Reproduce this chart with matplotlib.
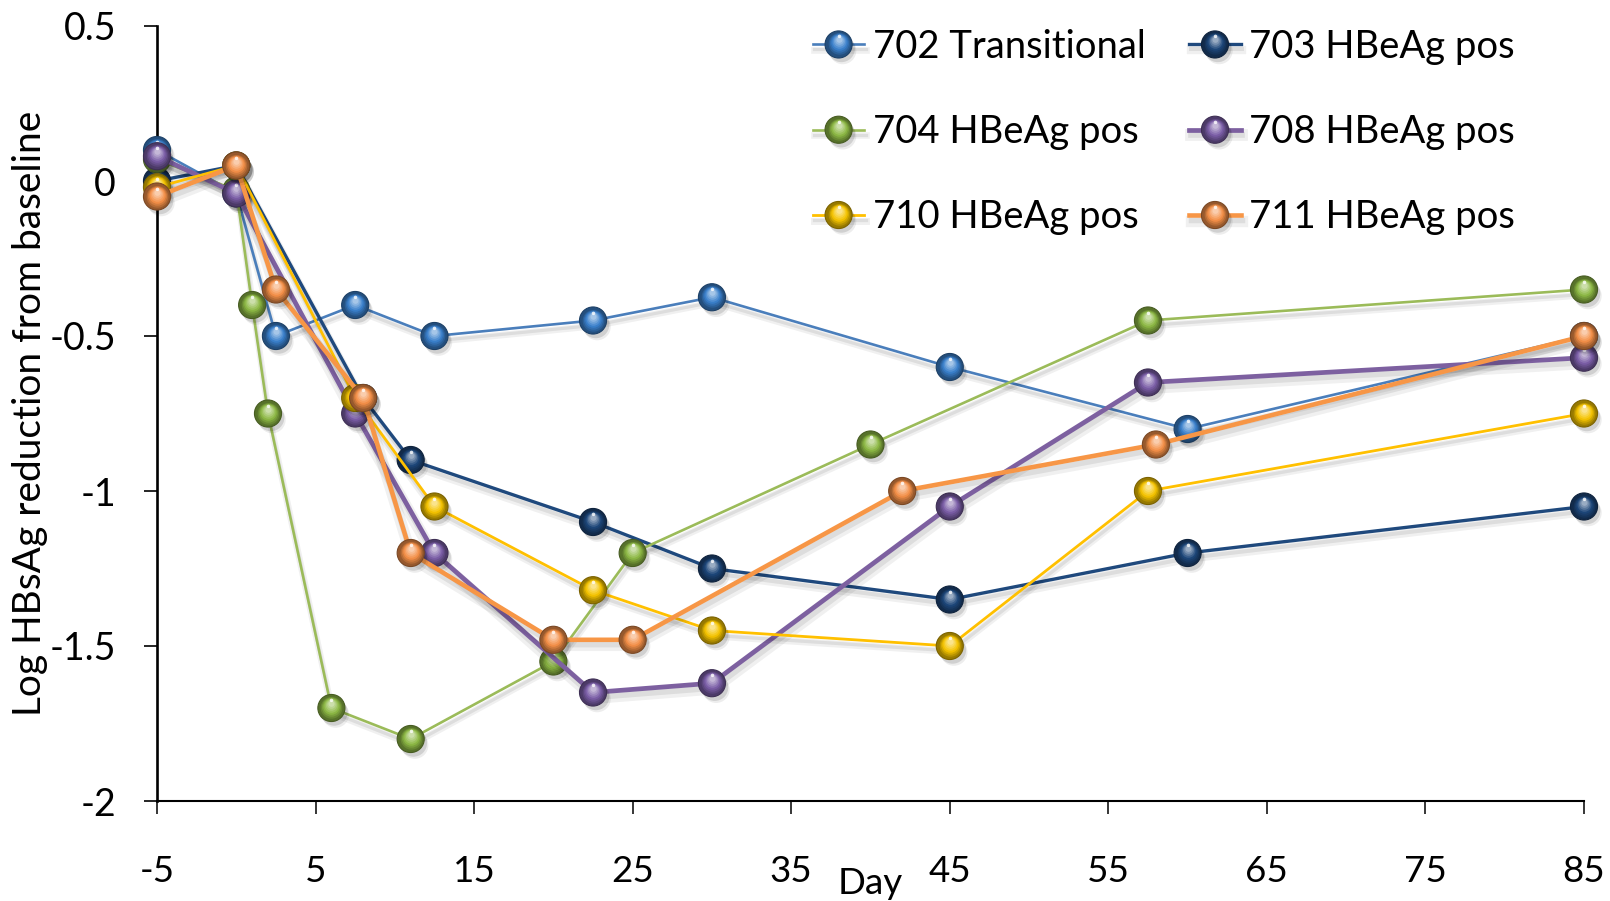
import numpy as np
import matplotlib
matplotlib.use("Agg")
from matplotlib import pyplot as plt
from matplotlib import patheffects as pe
from matplotlib.path import Path
from matplotlib.legend_handler import HandlerTuple
from matplotlib.colors import to_rgb

plt.rcParams['font.family'] = ['Lato', 'DejaVu Sans']
plt.rcParams['axes.unicode_minus'] = False

# dados por paciente: dia e log da redução do HBsAg
day_702 = [-5, 0, 2.5, 7.5, 12.5, 22.5, 30, 45, 60, 85]
val_702 = [0.1, -0.04, -0.5, -0.4, -0.5, -0.45, -0.375, -0.6, -0.8, -0.5]

day_703 = [-5, 0, 8, 11, 22.5, 30, 45, 60, 85]
val_703 = [0.0, 0.05, -0.7, -0.9, -1.1, -1.25, -1.35, -1.2, -1.05]

day_704 = [-5, 0, 1, 2, 6, 11, 20, 25, 40, 57.5, 85]
val_704 = [0.07, -0.03, -0.4, -0.75, -1.7, -1.8, -1.55, -1.2, -0.85, -0.45, -0.35]

day_708 = [-5, 0, 7.5, 12.5, 22.5, 30, 45, 57.5, 85]
val_708 = [0.08, -0.04, -0.75, -1.2, -1.65, -1.62, -1.05, -0.65, -0.57]

day_710 = [-5, 0, 7.5, 12.5, 22.5, 30, 45, 57.5, 85]
val_710 = [-0.02, 0.05, -0.7, -1.05, -1.32, -1.45, -1.5, -1.0, -0.75]

day_711 = [-5, 0, 2.5, 8, 11, 20, 25, 42, 58, 85]
val_711 = [-0.05, 0.05, -0.35, -0.7, -1.2, -1.48, -1.48, -1.0, -0.85, -0.5]

nomes = ['702 Transitional', '703 HBeAg pos', '704 HBeAg pos',
         '708 HBeAg pos', '710 HBeAg pos', '711 HBeAg pos']
cores = ['#4A7EBB', '#1F497D', '#9BBB59', '#7D60A0', '#FFC000', '#F79646']
cores_esfera = ['#3A80CC', '#1D4679', '#8DB844', '#7B5EA7', '#F5C400', '#F49048']
larguras = [1.9, 2.4, 1.9, 3.4, 2.0, 3.3]

x_ticks = [-5, 5, 15, 25, 35, 45, 55, 65, 75, 85]
x_tick_labels = ['-5', '5', '15', '25', '35', '45', '55', '65', '75', '85']
y_ticks = [-2, -1.5, -1, -0.5, 0, 0.5]
y_tick_labels = ['-2', '-1.5', '-1', '-0.5', '0', '0.5']

series = [(day_702, val_702), (day_703, val_703), (day_704, val_704),
          (day_708, val_708), (day_710, val_710), (day_711, val_711)]


def mistura(c1, c2, t):
    a = np.array(to_rgb(c1))
    b = np.array(to_rgb(c2))
    return tuple(a + (b - a) * t)


def bolinha(offset, diam):
    # circulo deslocado para cima; ms = 2*offset + diam mantem o tamanho
    circ = Path.circle(center=(0, offset), radius=diam / 2)
    return circ, 2 * offset + diam


D = 19.5  # diametro das esferas em pontos

fig = plt.figure(figsize=(16.1, 9.01), dpi=100)
ax = fig.add_axes([157 / 1610, 1 - 801 / 901, 1427 / 1610, 775 / 901])

handles = []
for i, ((dias, vals), cor, esf, lw) in enumerate(zip(series, cores, cores_esfera, larguras)):
    z = 3 + i
    escura = mistura(esf, 'black', 0.38)
    linha, = ax.plot(dias, vals, color=cor, lw=lw, zorder=z, clip_on=False,
                     solid_joinstyle='round',
                     path_effects=[pe.SimpleLineShadow(offset=(1, -4), shadow_color='k', alpha=0.06, linewidth=lw * 2.5),
                                   pe.SimpleLineShadow(offset=(1, -3.5), shadow_color='k', alpha=0.08, linewidth=lw * 1.2),
                                   pe.Normal()])
    partes = [linha]
    base, = ax.plot(dias, vals, ls='none', marker='o', ms=D, mfc=escura,
                    mec=mistura(esf, 'black', 0.5), mew=0.8, zorder=z + 0.01, clip_on=False,
                    path_effects=[pe.SimplePatchShadow(offset=(3, -4.5), shadow_rgbFace='k', alpha=0.07),
                                  pe.SimplePatchShadow(offset=(2, -3), shadow_rgbFace='k', alpha=0.12),
                                  pe.Normal()])
    partes.append(base)
    # camadas de brilho para dar aspecto de esfera
    n = 7
    for k in range(1, n + 1):
        t = k / n
        d = D * (0.9 - 0.68 * t)
        off = D * 0.17 * t
        if t < 0.45:
            c = mistura(escura, esf, t / 0.45)
        else:
            c = mistura(esf, 'white', (t - 0.45) / 0.55 * 0.55)
        mk, ms = bolinha(off, d)
        camada, = ax.plot(dias, vals, ls='none', marker=mk, ms=ms, mfc=c, mec='none',
                          zorder=z + 0.01 + 0.01 * k, clip_on=False)
        partes.append(camada)
    mk, ms = bolinha(D * 0.3, D * 0.13)
    brilho, = ax.plot(dias, vals, ls='none', marker=mk, ms=ms, mfc='white', mec='none',
                      alpha=0.8, zorder=z + 0.2, clip_on=False)
    partes.append(brilho)
    handles.append(tuple(partes))

ax.set_xlim(-5, 85)
ax.set_ylim(-2, 0.5)
ax.set_xticks(x_ticks, x_tick_labels)
ax.set_yticks(y_ticks, y_tick_labels)
ax.xaxis.set_tick_params(direction='out', length=9, width=1.1, labelsize=26.5, pad=30)
ax.yaxis.set_tick_params(direction='out', length=9.5, width=1.2, labelsize=27, pad=20)

for lado in ['top', 'right']:
    ax.spines[lado].set_visible(False)
ax.spines['left'].set_linewidth(1.9)
ax.spines['bottom'].set_linewidth(1.5)

ax.set_ylabel('Log HBsAg reduction from baseline', fontsize=28, labelpad=1)
ax.set_xlabel('Day', fontsize=26.5, labelpad=-15)

# legenda em duas colunas, preenchida por linhas
ordem = [0, 2, 4, 1, 3, 5]
ax.legend([handles[j] for j in ordem], [nomes[j] for j in ordem],
          handler_map={tuple: HandlerTuple(ndivide=1, pad=0)},
          ncols=2, frameon=False, fontsize=27.5, loc='upper left',
          bbox_to_anchor=(813 / 1610, 0.968), bbox_transform=fig.transFigure,
          borderpad=0, borderaxespad=0, handlelength=1.34, handletextpad=0.22,
          labelspacing=1.29, columnspacing=1.15)

plt.savefig('out.png', dpi=100)
